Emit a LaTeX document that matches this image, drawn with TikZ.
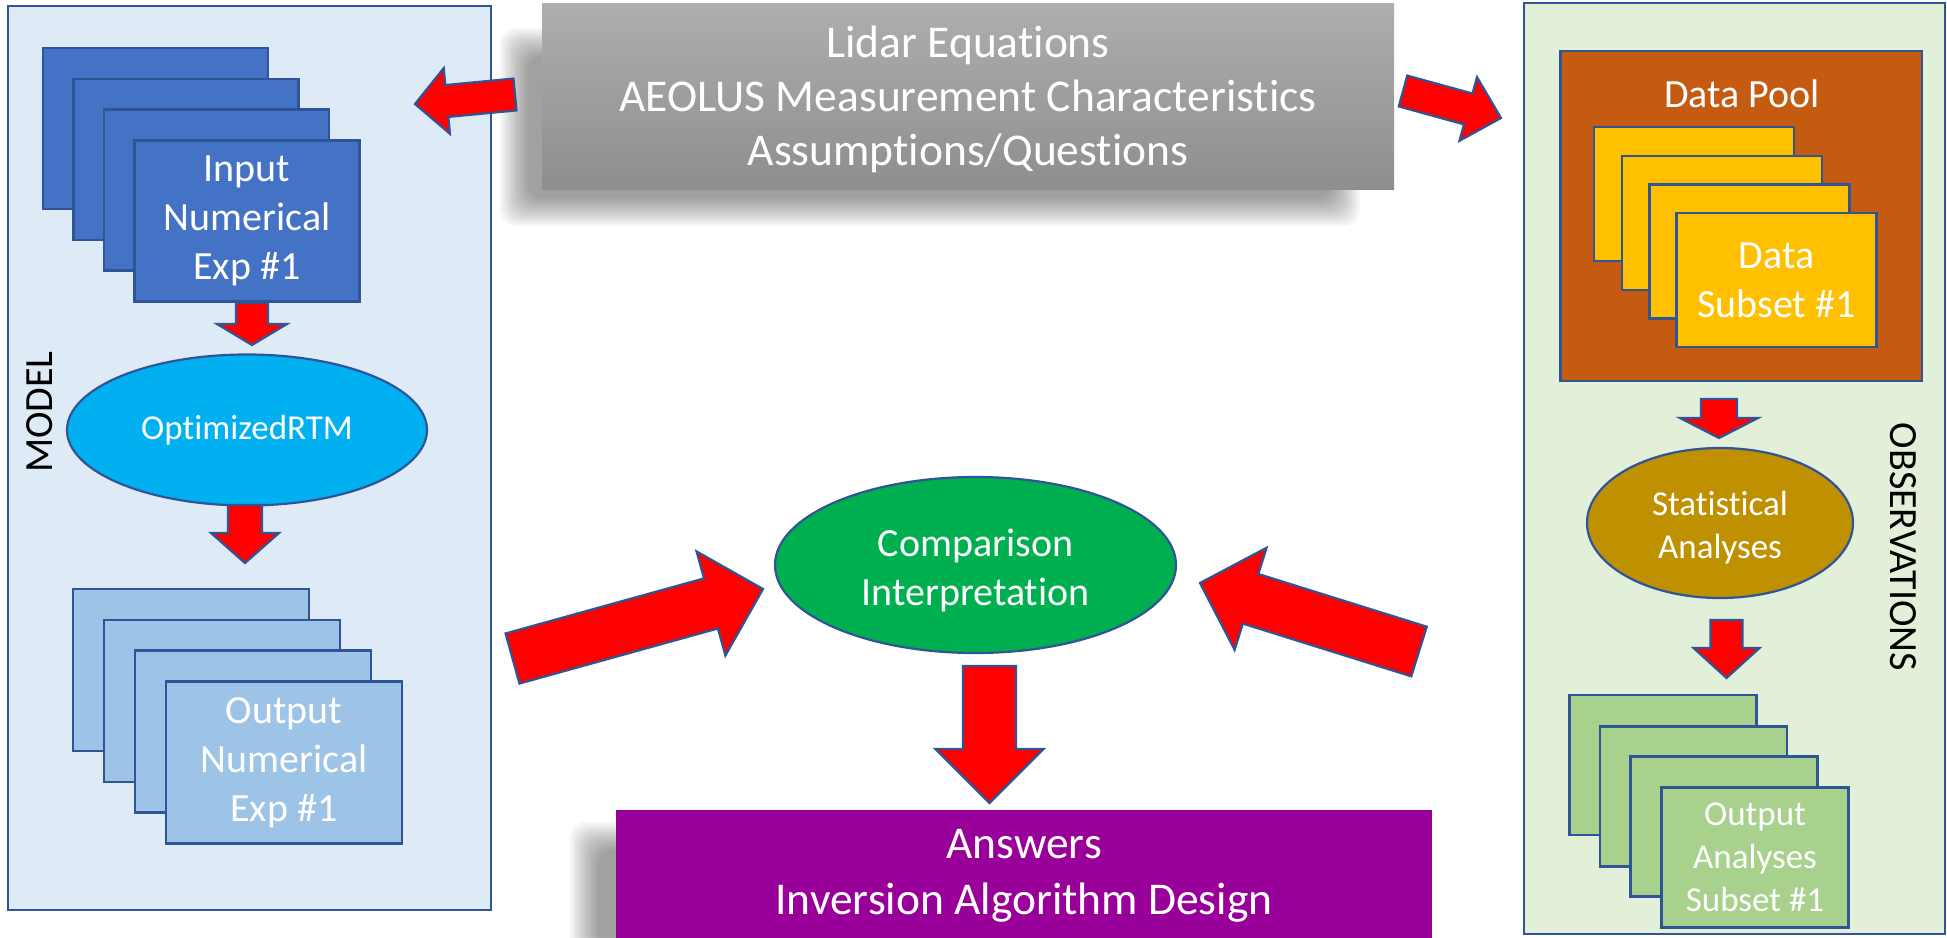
\documentclass[tikz,border=0pt]{standalone}
\usepackage{fontspec}
\setmainfont{Carlito}[Ligatures=NoCommon,Contextuals=NoAlternate]
\usetikzlibrary{calc,shapes.geometric}
\definecolor{bord}{HTML}{2F5597}
\definecolor{modelbg}{HTML}{DEEBF7}
\definecolor{obsbg}{HTML}{E2F0D9}
\definecolor{inblue}{HTML}{4472C4}
\definecolor{outblue}{HTML}{9DC3E6}
\definecolor{rtmcyan}{HTML}{00B0F0}
\definecolor{poolor}{HTML}{C55A11}
\definecolor{subgold}{HTML}{FFC000}
\definecolor{statgold}{HTML}{BF9000}
\definecolor{outgreen}{HTML}{A9D18E}
\definecolor{compgreen}{HTML}{00B050}
\definecolor{anspurple}{HTML}{990099}
\definecolor{greytop}{HTML}{AEAEAE}
\definecolor{greybot}{HTML}{8E8E8E}
\tikzset{
  panel/.style={draw=bord,line width=1.1pt,inner sep=0pt,outer sep=0pt},
  card/.style={draw=bord,line width=1.1pt,inner sep=0pt,outer sep=0pt,text=white,align=center},
  oval/.style={ellipse,draw=bord,line width=1.1pt,inner sep=0pt,outer sep=0pt,text=white,align=center},
  fatarr/.style={fill=red,draw=bord,line width=1.1pt,line join=miter},
  fbig/.style={font=\fontsize{22.75}{27}\selectfont},
  fbigans/.style={font=\fontsize{22.75}{27.75}\selectfont},
  fmid/.style={font=\fontsize{20}{24.5}\selectfont},
  fsmall/.style={font=\fontsize{17.5}{21.5}\selectfont},
  softshadow/.style={fill=black,opacity=0.035},
}
\newcommand\blkarrow[5]{%
  \path (#2) coordinate (tmpT);
  \path ($(#2)!#5!(#1)$) coordinate (tmpB);
  \draw[fatarr] ($(#1)!#3!90:(tmpT)$) -- ($(tmpB)!#3!90:(tmpT)$) -- ($(tmpB)!#4!90:(tmpT)$)
    -- (tmpT) -- ($(tmpB)!#4!-90:(tmpT)$) -- ($(tmpB)!#3!-90:(tmpT)$) -- ($(#1)!#3!-90:(tmpT)$) -- cycle;
}
\begin{document}
\begin{tikzpicture}[x=0.5pt,y=-0.5pt]
\useasboundingbox (0,0) rectangle (1947,937);
\fill[white] (0,0) rectangle (1947,937);

% ---------- shadows ----------
\foreach \i in {0,...,11}{
  \fill[softshadow,rounded corners=8pt] ({500+\i*2.5},{28+\i*2.5}) rectangle ({1360-\i*2.5},{226-\i*2.5});
  \fill[softshadow,rounded corners=8pt] ({570+\i*2.5},{822+\i*2.5}) rectangle ({1410-\i*2.5},{980});
}

% ---------- MODEL panel ----------
\node[panel,fill=modelbg,minimum width=241.5pt,minimum height=452pt] (modelpanel) at (249.5,458) {};
\node[rotate=90,fmid] (modellbl) at (40,412) {MODEL};

\node[card,fill=inblue,minimum width=112.5pt,minimum height=80.5pt] (in1) at (155.5,128.5) {};
\node[card,fill=inblue,minimum width=112.5pt,minimum height=80.5pt] (in2) at (186,159.5) {};
\node[card,fill=inblue,minimum width=112.5pt,minimum height=80.5pt] (in3) at (216.5,190) {};
\node[card,fill=inblue,minimum width=112.5pt,minimum height=80.5pt,fmid] (in4) at (247,221) {Input\\Numerical\\Exp \#1};

\node[oval,fill=rtmcyan,minimum width=180pt,minimum height=75.5pt,fsmall] (rtm) at (247,430) {OptimizedRTM};

\node[card,fill=outblue,minimum width=118pt,minimum height=81pt] (out1) at (191,670) {};
\node[card,fill=outblue,minimum width=118pt,minimum height=81pt] (out2) at (222,701) {};
\node[card,fill=outblue,minimum width=118pt,minimum height=81pt] (out3) at (253,731.5) {};
\node[card,fill=outblue,minimum width=118pt,minimum height=81pt,fmid] (out4) at (284,762.5) {Output\\Numerical\\Exp \#1};

% ---------- OBSERVATIONS panel ----------
\node[panel,fill=obsbg,minimum width=210.5pt,minimum height=465.5pt] (obspanel) at (1734.5,468.5) {};
\node[rotate=-90,fmid] (obslbl) at (1903,547) {OBSERVATIONS};

\node[card,fill=poolor,minimum width=180.75pt,minimum height=165pt] (pool) at (1741.25,216) {};
\node[fmid,text=white] (poollbl) at (1742,94) {Data Pool};

\node[card,fill=subgold,minimum width=100pt,minimum height=67pt] (sub1) at (1694,194) {};
\node[card,fill=subgold,minimum width=100pt,minimum height=67pt] (sub2) at (1722,223) {};
\node[card,fill=subgold,minimum width=100pt,minimum height=67pt] (sub3) at (1749.5,251.5) {};
\node[card,fill=subgold,minimum width=100pt,minimum height=67pt,fmid] (sub4) at (1776.5,280) {Data\\Subset \#1};

\node[oval,fill=statgold,minimum width=133pt,minimum height=75pt] (stat) at (1720,523) {};
\node[fsmall,text=white,align=center] (statlbl) at (1720,528) {Statistical\\Analyses};

\node[card,fill=outgreen,minimum width=93.5pt,minimum height=70pt] (oa1) at (1663,765) {};
\node[card,fill=outgreen,minimum width=93.5pt,minimum height=70pt] (oa2) at (1693.5,796.5) {};
\node[card,fill=outgreen,minimum width=93.5pt,minimum height=70pt] (oa3) at (1724,826.5) {};
\node[card,fill=outgreen,minimum width=93.5pt,minimum height=70pt,fsmall] (oa4) at (1755,857.5) {Output\\Analyses\\Subset \#1};

% ---------- centre ----------
\node[inner sep=0pt,outer sep=0pt,top color=greytop,bottom color=greybot,minimum width=426pt,minimum height=93pt] (lidar) at (968,96) {};
\node[text=white,align=center,fbig] (lidarlbl) at (968,99) {Lidar Equations\\AEOLUS Measurement Characteristics\\Assumptions/Questions};

\node[oval,fill=compgreen,minimum width=200.5pt,minimum height=88pt] (comp) at (975.5,565) {};
\node[fmid,text=white,align=center] (complbl) at (975.5,570) {Comparison\\Interpretation};

\node[inner sep=0pt,outer sep=0pt,fill=anspurple,minimum width=408pt,minimum height=66pt,text=white,align=center,fbigans] (ans) at (1024,876) {Answers\\Inversion Algorithm Design};

% ---------- block arrows ----------
\coordinate (a1s) at (515,94.5);   \coordinate (a1e) at (415,104);
\coordinate (a2s) at (1403,91);    \coordinate (a2e) at (1501,118);
\coordinate (a3s) at (512.5,658.5);\coordinate (a3e) at (763,589);
\coordinate (a4s) at (1419,651.5); \coordinate (a4e) at (1200,583);
\coordinate (a5s) at (989.5,666);  \coordinate (a5e) at (989.5,803);
\coordinate (a6s) at (252,303);    \coordinate (a6e) at (252,345);
\coordinate (a7s) at (245,505);    \coordinate (a7e) at (245,563);
\coordinate (a8s) at (1719,399);   \coordinate (a8e) at (1719,438);
\coordinate (a9s) at (1726.5,620); \coordinate (a9e) at (1726.5,678);

\blkarrow{a1s}{a1e}{8pt}{16.5pt}{16pt}
\blkarrow{a2s}{a2e}{8pt}{16.5pt}{17pt}
\blkarrow{a3s}{a3e}{13pt}{27pt}{27pt}
\blkarrow{a4s}{a4e}{13pt}{26.75pt}{26.5pt}
\blkarrow{a5s}{a5e}{13.25pt}{27pt}{27pt}
\blkarrow{a6s}{a6e}{8pt}{17.5pt}{10.5pt}
\blkarrow{a7s}{a7e}{8.5pt}{17pt}{15pt}
\blkarrow{a8s}{a8e}{9pt}{19.5pt}{10pt}
\blkarrow{a9s}{a9e}{8pt}{16.5pt}{15pt}
\end{tikzpicture}
\end{document}
